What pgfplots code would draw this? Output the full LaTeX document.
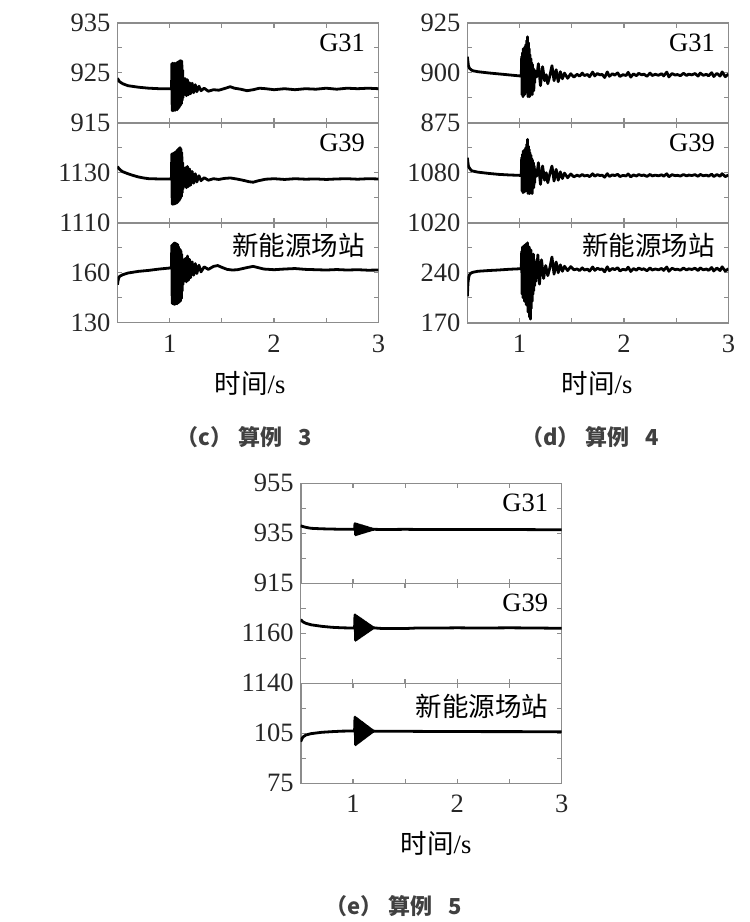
\documentclass[border=0pt]{standalone}
\usepackage{pgfplots}
\pgfplotsset{compat=1.18}
\usepackage{fontspec}
\setmainfont{Liberation Serif}
\newfontfamily\cjk{Noto Sans CJK SC}
\newcommand{\lbl}{\fontsize{13.25}{14}\selectfont}
\newcommand{\capfont}{\cjk\bfseries\fontsize{11}{13}\selectfont}
\pgfplotsset{
  panel/.style={
    scale only axis, width=130.5pt, height=50pt,
    xmin=0.5, xmax=3,
    axis line style={draw=black!45, line width=0.8pt},
    tick style={draw=black!45, line width=0.6pt},
    major tick length=2.4pt, minor tick length=2.4pt,
    tick align=inside,
    xtick={1,2,3}, minor xtick={1.5,2.5}, xticklabels={},
    tick label style={font=\lbl, text=black!85},
    xticklabel style={yshift=-2.5pt},
    /pgf/number format/assume math mode=true,
    clip=true,
  },
  sig/.style={black, line width=1.4pt, line join=round, mark=none},
}
\begin{document}
\begin{tikzpicture}
\useasboundingbox (0,0) rectangle (375pt,-461pt);
% ================= (c) =================
\begin{axis}[panel, at={(58.75pt,-11.35pt)}, anchor=north west,
  ymin=915, ymax=935, ytick={915,925,935}, yticklabels={915,925,935}, minor ytick={920,930}]
\addplot[sig] coordinates {(0.5,923.9)(0.51,923.5)(0.52,923.2)(0.55,922.8)(0.6,922.4)(0.7,922.1)(0.8,921.9)(0.9,921.8)(1.0,921.8)(1.018,921.8)
(1.020,926.8)(1.024,917.4)(1.028,926.9)(1.032,917.5)(1.036,926.8)(1.040,917.4)(1.044,926.9)(1.048,917.6)(1.052,926.8)(1.056,917.5)(1.060,926.9)(1.064,917.7)(1.068,927.0)(1.072,917.6)(1.076,927.1)(1.080,917.8)(1.084,927.2)(1.088,918.0)(1.092,927.3)(1.096,918.3)(1.100,927.4)(1.104,918.5)(1.108,927.4)(1.112,918.8)(1.116,927.3)(1.120,919.5)(1.124,925.5)(1.128,920.0)(1.132,924.0)
(1.14,920.6)(1.15,923.8)(1.16,920.4)(1.17,923.6)(1.18,920.6)(1.19,923.0)(1.20,920.8)(1.215,922.9)(1.23,921.0)(1.245,922.6)(1.26,921.2)(1.28,922.3)(1.30,921.4)(1.33,921.9)(1.37,921.3)(1.42,921.6)(1.47,921.5)(1.52,921.8)(1.58,922.2)(1.62,921.9)(1.68,921.7)(1.74,921.4)(1.80,921.6)(1.86,921.9)(1.92,921.8)(2.0,921.6)(2.1,921.8)(2.2,921.6)(2.3,921.8)(2.4,921.7)(2.5,921.9)(2.6,921.7)(2.7,921.9)(2.8,921.8)(2.9,921.9)(3.0,921.8)};
\node[anchor=east, font=\lbl] at (rel axis cs:0.975,0.8) {G31};
\end{axis}
\begin{axis}[panel, at={(58.75pt,-61.35pt)}, anchor=north west,
  ymin=1110, ymax=1150, ytick={1110,1130}, yticklabels={1110,1130}, minor ytick={1120,1140}]
\addplot[sig] coordinates {(0.5,1132.5)(0.51,1131.8)(0.53,1131.0)(0.55,1130.4)(0.6,1129.6)(0.65,1128.9)(0.7,1128.3)(0.75,1127.9)(0.8,1127.6)(0.9,1127.5)(1.0,1127.5)(1.016,1127.5)
(1.020,1137.5)(1.024,1117.4)(1.028,1137.6)(1.032,1117.5)(1.036,1137.8)(1.040,1117.4)(1.044,1138.0)(1.048,1117.6)(1.052,1138.2)(1.056,1117.7)(1.060,1138.5)(1.064,1117.8)(1.068,1138.8)(1.072,1118.0)(1.076,1139.2)(1.080,1118.3)(1.084,1139.6)(1.088,1118.7)(1.092,1139.9)(1.096,1119.2)(1.100,1140.0)(1.104,1119.8)(1.108,1139.5)(1.112,1120.5)(1.116,1138.0)(1.120,1122.0)(1.124,1134.0)(1.128,1123.5)(1.132,1131.0)
(1.14,1124.5)(1.15,1132.0)(1.16,1124.0)(1.17,1132.5)(1.18,1124.5)(1.19,1131.5)(1.20,1125.0)(1.215,1130.5)(1.23,1125.8)(1.245,1129.6)(1.26,1126.3)(1.28,1128.8)(1.30,1126.8)(1.33,1128.0)(1.37,1127.0)(1.42,1127.6)(1.47,1127.3)(1.52,1127.7)(1.58,1127.9)(1.64,1127.5)(1.70,1127.0)(1.76,1126.4)(1.80,1126.2)(1.85,1126.8)(1.92,1127.4)(2.0,1127.6)(2.1,1127.3)(2.2,1127.6)(2.3,1127.4)(2.4,1127.5)(2.5,1127.3)(2.6,1127.5)(2.7,1127.6)(2.8,1127.4)(2.9,1127.6)(3.0,1127.5)};
\node[anchor=east, font=\lbl] at (rel axis cs:0.975,0.8) {G39};
\node[rotate=90, font=\lbl] at ([xshift=-43pt]rel axis cs:0,0.5) {{\cjk 有功功率}/MW};
\end{axis}
\begin{axis}[panel, at={(58.75pt,-111.35pt)}, anchor=north west,
  ymin=130, ymax=190, ytick={130,160}, yticklabels={130,160}, minor ytick={145,175},
  xticklabels={1,2,3}]
\addplot[sig] coordinates {(0.5,152.8)(0.505,155.0)(0.51,156.5)(0.52,157.8)(0.55,158.8)(0.6,159.8)(0.7,160.8)(0.8,161.4)(0.9,162.2)(1.0,162.8)(1.016,162.9)
(1.020,176.5)(1.024,141.5)(1.028,177.0)(1.032,141.3)(1.036,177.5)(1.040,141.2)(1.044,177.8)(1.048,141.0)(1.052,177.8)(1.056,141.2)(1.060,177.5)(1.064,141.5)(1.068,177.2)(1.072,141.4)(1.076,177.0)(1.080,141.8)(1.084,175.5)(1.088,142.2)(1.092,174.5)(1.096,142.5)(1.100,174.0)(1.104,143.0)(1.108,173.0)(1.112,144.5)(1.116,171.0)(1.120,149.0)(1.124,168.0)(1.128,153.0)(1.132,166.0)
(1.14,155.0)(1.15,168.5)(1.16,154.5)(1.17,170.0)(1.18,155.5)(1.19,168.0)(1.20,157.0)(1.215,166.5)(1.23,158.5)(1.245,165.5)(1.26,159.5)(1.28,164.5)(1.30,160.5)(1.33,163.5)(1.37,162.0)(1.42,163.8)(1.46,164.3)(1.50,163.2)(1.55,162.0)(1.6,161.6)(1.65,161.8)(1.7,162.5)(1.75,163.2)(1.8,163.8)(1.85,163.0)(1.9,162.2)(2.0,161.8)(2.1,162.2)(2.2,162.5)(2.3,162.0)(2.4,161.8)(2.5,161.6)(2.6,161.9)(2.7,161.6)(2.8,161.8)(2.9,161.5)(3.0,161.6)};
\node[anchor=east, font=\lbl] at (rel axis cs:0.975,0.77) {\cjk 新能源场站};
\end{axis}
% ================= (d) =================
\begin{axis}[panel, at={(233.7pt,-11.35pt)}, anchor=north west,
  ymin=875, ymax=925, ytick={875,900,925}, yticklabels={875,900,925}, minor ytick={887.5,912.5}]
\addplot[sig] coordinates {(0.5,908)(0.505,905.5)(0.51,903.5)(0.52,902.2)(0.535,901.5)(0.55,901.0)(0.6,900.5)(0.7,899.9)(0.8,899.4)(0.9,898.9)(1.0,898.4)(1.016,898.4)
(1.020,908)(1.024,889)(1.028,910)(1.032,888)(1.036,912)(1.040,891)(1.044,911)(1.048,889)(1.052,913)(1.056,892)(1.060,914)(1.064,893)(1.068,916)(1.072,890)(1.076,918)(1.080,888)(1.084,915)(1.088,890)(1.092,912)(1.096,888)(1.100,909)(1.104,893)(1.108,907)(1.112,891)(1.116,905)(1.120,889)(1.124,904)(1.128,894)(1.132,902)(1.136,891)(1.140,900)(1.144,895)(1.150,901)
(1.165,898)(1.18,904.5)(1.20,893.5)(1.22,903)(1.24,896)(1.255,899)(1.27,894.5)(1.29,898.5)(1.31,903.5)(1.33,896)(1.35,901.5)(1.37,895.5)(1.39,900.5)(1.41,897)(1.43,899.8)(1.46,897.2)(1.49,899.5)(1.52,897.8)
(1.55,899.2)(1.575,898.3)(1.60,899.8)(1.62,898.6)(1.65,899.1)(1.67,898.0)(1.70,900.3)(1.72,898.4)(1.745,899.6)(1.77,898.9)(1.79,899.2)(1.815,897.6)(1.84,900.4)(1.86,898.2)(1.89,899.5)(1.91,898.8)(1.94,899.9)(1.96,898.1)(1.99,899.0)(2.02,898.6)(2.04,900.2)(2.065,897.8)(2.09,899.4)(2.12,898.5)(2.14,899.7)(2.17,898.9)(2.19,899.3)(2.22,898.2)(2.25,899.8)(2.27,898.6)(2.30,899.2)(2.33,898.7)(2.36,899.5)(2.38,898.4)(2.41,900.3)(2.43,897.9)(2.46,899.6)(2.49,898.8)(2.51,899.1)(2.54,898.5)(2.57,899.7)(2.60,898.6)(2.62,899.3)(2.65,898.9)(2.68,899.6)(2.71,898.3)(2.73,899.8)(2.76,898.7)(2.79,899.2)(2.81,898.4)(2.84,900.0)(2.86,898.1)(2.89,899.7)(2.92,898.3)(2.94,900.4)(2.97,898.0)(3.00,899.3)};
\node[anchor=east, font=\lbl] at (rel axis cs:0.975,0.8) {G31};
\end{axis}
\begin{axis}[panel, at={(233.7pt,-61.35pt)}, anchor=north west,
  ymin=1020, ymax=1140, ytick={1020,1080}, yticklabels={1020,1080}, minor ytick={1050,1110}]
\addplot[sig] coordinates {(0.5,1098)(0.505,1092)(0.51,1088)(0.52,1085.5)(0.535,1083)(0.55,1082)(0.6,1080.7)(0.7,1079.2)(0.8,1078.0)(0.9,1077.3)(1.0,1076.8)(1.016,1076.8)
(1.020,1098)(1.024,1058)(1.028,1102)(1.032,1056)(1.036,1106)(1.040,1060)(1.044,1104)(1.048,1057)(1.052,1108)(1.056,1061)(1.060,1110)(1.064,1062)(1.068,1114)(1.072,1058)(1.076,1120)(1.080,1055)(1.084,1112)(1.088,1058)(1.092,1108)(1.096,1055)(1.100,1104)(1.104,1062)(1.108,1101)(1.112,1058)(1.116,1097)(1.120,1055)(1.124,1095)(1.128,1064)(1.132,1092)(1.136,1062)(1.140,1088)(1.144,1068)(1.150,1084)
(1.165,1076)(1.18,1092)(1.20,1066)(1.22,1088)(1.24,1071)(1.255,1080)(1.27,1068)(1.29,1079)(1.31,1088)(1.33,1070)(1.35,1084)(1.37,1071)(1.39,1081)(1.41,1073)(1.43,1079.5)(1.46,1074)(1.49,1078.5)(1.52,1075)
(1.55,1077.05)(1.575,1075.7)(1.60,1077.95)(1.62,1076.15)(1.65,1076.9)(1.67,1075.25)(1.70,1078.7)(1.72,1075.85)(1.745,1077.65)(1.77,1076.6)(1.79,1077.05)(1.815,1074.65)(1.84,1078.85)(1.86,1075.55)(1.89,1077.5)(1.91,1076.45)(1.94,1078.1)(1.96,1075.4)(1.99,1076.75)(2.02,1076.15)(2.04,1078.55)(2.065,1074.95)(2.09,1077.35)(2.12,1076.0)(2.14,1077.8)(2.17,1076.6)(2.19,1077.2)(2.22,1075.55)(2.25,1077.95)(2.27,1076.15)(2.30,1077.05)(2.33,1076.3)(2.36,1077.5)(2.38,1075.85)(2.41,1078.7)(2.43,1075.1)(2.46,1077.65)(2.49,1076.45)(2.51,1076.9)(2.54,1076.0)(2.57,1077.8)(2.60,1076.15)(2.62,1077.2)(2.65,1076.6)(2.68,1077.65)(2.71,1075.7)(2.73,1077.95)(2.76,1076.3)(2.79,1077.05)(2.81,1075.85)(2.84,1078.25)(2.86,1075.4)(2.89,1077.8)(2.92,1075.7)(2.94,1078.85)(2.97,1075.25)(3.00,1077.2)};
\node[anchor=east, font=\lbl] at (rel axis cs:0.975,0.8) {G39};
\end{axis}
\begin{axis}[panel, at={(233.7pt,-111.35pt)}, anchor=north west,
  ymin=170, ymax=310, ytick={170,240}, yticklabels={170,240}, minor ytick={205,275},
  xticklabels={1,2,3}]
\addplot[sig] coordinates {(0.5,207)(0.503,218)(0.506,226)(0.51,231)(0.515,235)(0.52,237)(0.53,239)(0.55,240.5)(0.6,242)(0.7,243)(0.8,243.8)(0.9,244.8)(1.0,245.5)(1.016,245.6)
(1.020,270)(1.024,210)(1.028,276)(1.032,205)(1.036,272)(1.040,215)(1.044,278)(1.048,200)(1.052,274)(1.056,212)(1.060,280)(1.064,195)(1.068,276)(1.072,205)(1.076,282)(1.080,185)(1.084,270)(1.088,190)(1.092,276)(1.096,178)(1.100,268)(1.104,175)(1.108,272)(1.112,190)(1.116,265)(1.120,200)(1.124,262)(1.128,210)(1.132,266)(1.136,215)(1.140,258)(1.144,222)(1.150,255)(1.156,228)
(1.165,245)(1.175,265)(1.19,224)(1.21,258)(1.23,232)(1.25,250)(1.27,236)(1.29,247)(1.31,262)(1.33,238)(1.35,255)(1.37,240)(1.39,251)(1.41,242)(1.43,249)(1.46,243)(1.49,248.5)(1.52,244)
(1.55,245.25)(1.575,243.0)(1.60,246.75)(1.62,243.75)(1.65,245.0)(1.67,242.25)(1.70,248.0)(1.72,243.25)(1.745,246.25)(1.77,244.5)(1.79,245.25)(1.815,241.25)(1.84,248.25)(1.86,242.75)(1.89,246.0)(1.91,244.25)(1.94,247.0)(1.96,242.5)(1.99,244.75)(2.02,243.75)(2.04,247.75)(2.065,241.75)(2.09,245.75)(2.12,243.5)(2.14,246.5)(2.17,244.5)(2.19,245.5)(2.22,242.75)(2.25,246.75)(2.27,243.75)(2.30,245.25)(2.33,244.0)(2.36,246.0)(2.38,243.25)(2.41,248.0)(2.43,242.0)(2.46,246.25)(2.49,244.25)(2.51,245.0)(2.54,243.5)(2.57,246.5)(2.60,243.75)(2.62,245.5)(2.65,244.5)(2.68,246.25)(2.71,243.0)(2.73,246.75)(2.76,244.0)(2.79,245.25)(2.81,243.25)(2.84,247.25)(2.86,242.5)(2.89,246.5)(2.92,243.0)(2.94,248.25)(2.97,242.25)(3.00,245.5)};
\node[anchor=east, font=\lbl] at (rel axis cs:0.975,0.77) {\cjk 新能源场站};
\end{axis}
% ================= (e) =================
\begin{axis}[panel, at={(150.35pt,-241.65pt)}, anchor=north west,
  ymin=915, ymax=955, ytick={915,935,955}, yticklabels={915,935,955}, minor ytick={925,945}]
\addplot[sig] coordinates {(0.5,938.0)(0.53,937.6)(0.56,937.3)(0.6,937.0)(0.7,936.8)(0.8,936.7)(0.9,936.6)(1.0,936.6)(1.016,936.6)
(1.020,938.9)(1.026,934.38)(1.032,938.75)(1.038,934.53)(1.044,938.59)(1.050,934.68)(1.056,938.44)(1.062,934.84)(1.068,938.29)(1.074,934.99)(1.080,938.13)(1.086,935.14)(1.092,937.98)(1.098,935.30)(1.104,937.83)(1.110,935.45)(1.116,937.67)(1.122,935.60)(1.128,937.52)(1.134,935.76)(1.140,937.37)(1.146,935.91)(1.152,937.21)(1.158,936.06)(1.164,937.06)(1.170,936.22)(1.176,936.91)(1.182,936.37)(1.188,936.75)(1.194,936.52)(1.200,936.6)
(1.3,936.5)(1.5,936.6)(1.7,936.5)(2.0,936.5)(2.3,936.5)(2.6,936.5)(3.0,936.4)};
\node[anchor=east, font=\lbl] at (rel axis cs:0.975,0.8) {G31};
\end{axis}
\begin{axis}[panel, at={(150.35pt,-291.65pt)}, anchor=north west,
  ymin=1140, ymax=1180, ytick={1140,1160}, yticklabels={1140,1160}, minor ytick={1150,1170}]
\addplot[sig] coordinates {(0.5,1165.5)(0.52,1164.6)(0.55,1164.0)(0.6,1163.4)(0.7,1162.8)(0.8,1162.4)(0.9,1162.2)(1.0,1162.1)(1.016,1162.2)
(1.020,1167.4)(1.026,1157.17)(1.032,1167.05)(1.038,1157.52)(1.044,1166.71)(1.050,1157.87)(1.056,1166.36)(1.062,1158.21)(1.068,1166.01)(1.074,1158.56)(1.080,1165.67)(1.086,1158.91)(1.092,1165.32)(1.098,1159.25)(1.104,1164.97)(1.110,1159.60)(1.116,1164.63)(1.122,1159.95)(1.128,1164.28)(1.134,1160.29)(1.140,1163.93)(1.146,1160.64)(1.152,1163.59)(1.158,1160.99)(1.164,1163.24)(1.170,1161.33)(1.176,1162.89)(1.182,1161.68)(1.188,1162.55)(1.194,1162.03)(1.200,1162.2)
(1.25,1162.0)(1.3,1161.9)(1.4,1161.9)(1.5,1161.9)(1.6,1162.1)(1.8,1162.1)(2.0,1162.2)(2.2,1162.1)(2.5,1162.2)(2.8,1162.1)(3.0,1162.0)};
\node[anchor=east, font=\lbl] at (rel axis cs:0.975,0.8) {G39};
\node[rotate=90, font=\lbl] at ([xshift=-44.5pt]rel axis cs:0,0.5) {{\cjk 有功功率}/MW};
\end{axis}
\begin{axis}[panel, at={(150.35pt,-341.65pt)}, anchor=north west,
  ymin=75, ymax=135, ytick={75,105}, yticklabels={75,105}, minor ytick={90,120},
  xticklabels={1,2,3}]
\addplot[sig] coordinates {(0.5,100.0)(0.51,101.5)(0.52,102.7)(0.55,104.0)(0.6,104.8)(0.7,105.6)(0.8,106.0)(0.9,106.3)(1.0,106.4)(1.016,106.4)
(1.020,114.8)(1.026,98.08)(1.032,114.23)(1.038,98.65)(1.044,113.67)(1.050,99.22)(1.056,113.10)(1.062,99.78)(1.068,112.53)(1.074,100.35)(1.080,111.97)(1.086,100.92)(1.092,111.40)(1.098,101.48)(1.104,110.83)(1.110,102.05)(1.116,110.27)(1.122,102.62)(1.128,109.70)(1.134,103.18)(1.140,109.13)(1.146,103.75)(1.152,108.57)(1.158,104.32)(1.164,108.00)(1.170,104.88)(1.176,107.43)(1.182,105.45)(1.188,106.87)(1.194,106.02)(1.200,106.3)
(1.3,106.2)(1.5,106.2)(1.8,106.1)(2.0,106.1)(2.3,106.0)(2.6,106.0)(3.0,105.9)};
\node[anchor=east, font=\lbl] at (rel axis cs:0.975,0.77) {\cjk 新能源场站};
\end{axis}
% ================= labels =================
\node[font=\lbl] at (125pt,-191.5pt) {{\cjk 时间}/s};
\node[font=\lbl] at (298.5pt,-191.5pt) {{\cjk 时间}/s};
\node[font=\lbl] at (218pt,-421.5pt) {{\cjk 时间}/s};
\node[font=\capfont, text=black!75] at (122pt,-218.5pt) {（c）\hspace{3pt}算例\hspace{8pt}3};
\node[font=\capfont, text=black!75] at (295pt,-218.5pt) {（d）\hspace{3pt}算例\hspace{8pt}4};
\node[font=\capfont, text=black!75] at (197pt,-453pt) {（e）\hspace{3pt}算例\hspace{8pt}5};
\end{tikzpicture}
\end{document}
